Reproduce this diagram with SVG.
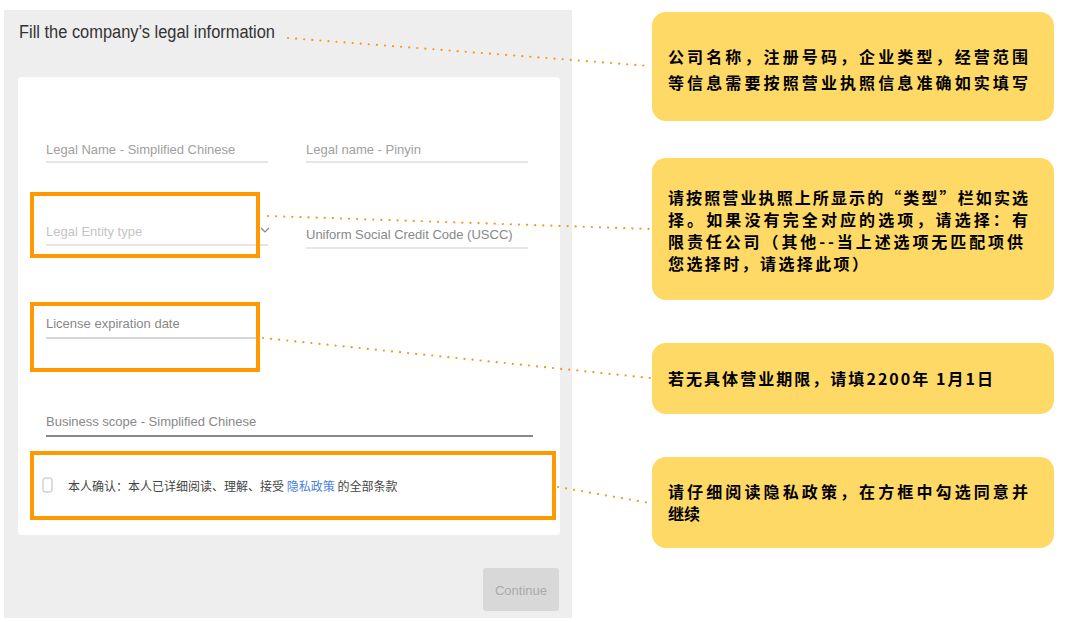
<svg xmlns="http://www.w3.org/2000/svg" width="1081" height="622" viewBox="0 0 1081 622">
<style>
.lbl{font-family:"Liberation Sans","Noto Sans CJK SC",sans-serif;font-size:13px;fill:#a0a0a0}
.uline{stroke:#dcdcdc;stroke-width:1.5}
.hl{fill:none;stroke:#FF9900;stroke-width:4}
.note{fill:#FFD966}
.nt{font-family:"Noto Sans CJK SC",sans-serif;font-size:16px;font-weight:bold;fill:#000}
.dot{stroke:#F59B1E;stroke-width:2.2;stroke-dasharray:0.1 8;stroke-linecap:round;fill:none}
</style>
<rect width="1081" height="622" fill="#fff"/>
<g id="form">
<rect x="4" y="10" width="568" height="608" fill="#eeeeee"/>
<text x="19" y="38" font-family="Liberation Sans,sans-serif" font-size="18" fill="#333" textLength="256" lengthAdjust="spacingAndGlyphs">Fill the company’s legal information</text>
<rect x="18" y="77" width="542" height="458" rx="4" fill="#fff"/>
<text class="lbl" x="46" y="154">Legal Name - Simplified Chinese</text>
<line class="uline" x1="46" y1="162" x2="268" y2="162"/>
<text class="lbl" x="306" y="154">Legal name - Pinyin</text>
<line class="uline" x1="306" y1="162" x2="528" y2="162"/>
<text class="lbl" x="46" y="236" style="fill:#c4c4c4">Legal Entity type</text>
<line class="uline" x1="46" y1="245" x2="268" y2="245"/>
<path d="M261,228 l4,4 l4,-4" fill="none" stroke="#888" stroke-width="1.2"/>
<text class="lbl" x="306" y="239" style="fill:#888">Uniform Social Credit Code (USCC)</text>
<line class="uline" x1="306" y1="248" x2="528" y2="248"/>
<text class="lbl" x="46" y="328" style="fill:#888">License expiration date</text>
<line x1="46" y1="338" x2="258" y2="338" stroke="#c8c8c8" stroke-width="1.5"/>
<text class="lbl" x="46" y="426" style="fill:#888">Business scope - Simplified Chinese</text>
<line x1="46" y1="436" x2="533" y2="436" stroke="#888" stroke-width="2"/>
<rect x="43" y="478" width="9" height="14" rx="2" fill="none" stroke="#bbb" stroke-width="1"/>
<text x="68" y="491" font-family="Noto Sans CJK SC,sans-serif" font-size="12" fill="#444">本人确认：本人已详细阅读、理解、接受 <tspan fill="#4a7fe0">隐私政策</tspan> 的全部条款</text>
<rect x="483" y="568" width="76" height="43" rx="3" fill="#d8d8d8"/>
<text x="521" y="595" text-anchor="middle" font-family="Liberation Sans,sans-serif" font-size="13" fill="#aaa">Continue</text>
</g>
<g id="highlights">
<rect class="hl" x="32" y="194" width="226" height="62"/>
<rect class="hl" x="32" y="304" width="226" height="66"/>
<rect class="hl" x="32" y="453" width="522" height="65"/>
</g>
<g id="connectors">
<line class="dot" x1="288" y1="38" x2="650" y2="66"/>
<line class="dot" x1="268" y1="216" x2="650" y2="229"/>
<line class="dot" x1="263" y1="338" x2="650" y2="378"/>
<line class="dot" x1="558" y1="487" x2="650" y2="503"/>
</g>
<g id="note1"><rect class="note" x="652" y="12" width="402" height="109" rx="14"/>
<text class="nt" x="668" y="63" textLength="360">公司名称，注册号码，企业类型，经营范围</text>
<text class="nt" x="668" y="89" textLength="360">等信息需要按照营业执照信息准确如实填写</text></g>
<g id="note2"><rect class="note" x="652" y="158" width="402" height="142" rx="14"/>
<text class="nt" x="668" y="204" textLength="360">请按照营业执照上所显示的“类型”栏如实选</text>
<text class="nt" x="668" y="226" textLength="360">择。如果没有完全对应的选项，请选择：有</text>
<text class="nt" x="668" y="248" textLength="355">限责任公司（其他--当上述选项无匹配项供</text>
<text class="nt" x="668" y="270" textLength="200">您选择时，请选择此项）</text></g>
<g id="note3"><rect class="note" x="652" y="343" width="402" height="71" rx="14"/>
<text class="nt" x="668" y="385" textLength="325">若无具体营业期限，请填2200年 1月1日</text></g>
<g id="note4"><rect class="note" x="652" y="457" width="402" height="91" rx="14"/>
<text class="nt" x="668" y="498" textLength="360">请仔细阅读隐私政策，在方框中勾选同意并</text>
<text class="nt" x="668" y="520">继续</text></g>
</svg>
